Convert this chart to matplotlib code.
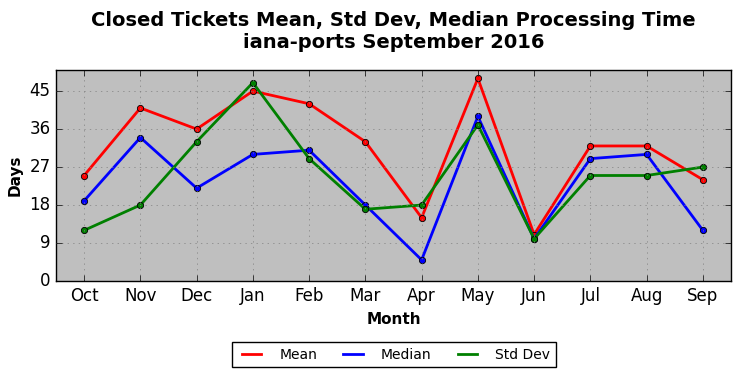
import matplotlib
matplotlib.use("Agg")
import matplotlib.pyplot as plt

months = ["Oct", "Nov", "Dec", "Jan", "Feb", "Mar", "Apr", "May", "Jun", "Jul", "Aug", "Sep"]
mean_days = [25, 41, 36, 45, 42, 33, 15, 48, 11, 32, 32, 24]
median_days = [19, 34, 22, 30, 31, 18, 5, 39, 10, 29, 30, 12]
std_days = [12, 18, 33, 47, 29, 17, 18, 37, 10, 25, 25, 27]

plt.style.use("classic")

fig = plt.figure(figsize=(7.41, 3.78), dpi=100)
fig.patch.set_facecolor("white")
ax = fig.add_axes([56 / 741, 1 - 281 / 378, (731 - 56) / 741, (281 - 70) / 378])
ax.set_facecolor("#bfbfbf")

x = list(range(len(months)))
series = [(mean_days, "red", "Mean"), (median_days, "blue", "Median"), (std_days, "green", "Std Dev")]
for vals, col, name in series:
    # line carries the legend entry, markers drawn on top without one
    ax.plot(x, vals, color=col, lw=2, label=name)
    ax.plot(x, vals, color=col, lw=0, marker="o", ms=4.5, mec="black", mew=0.6)

ax.set_xlim(-0.5, len(months) - 0.5)
ax.set_ylim(0, 50)
ax.set_xticks(x)
ax.set_xticklabels(months)
ax.set_yticks([0, 9, 18, 27, 36, 45])
ax.grid(True, color="gray", linestyle=":")
ax.tick_params(labelsize=12)

ax.set_xlabel("Month", fontweight="bold", fontsize=11)
ax.set_ylabel("Days", fontweight="bold", fontsize=11)
ax.set_title("Closed Tickets Mean, Std Dev, Median Processing Time\niana-ports September 2016",
             fontweight="bold", fontsize=14, y=1.07)

fig.legend(loc="lower center", bbox_to_anchor=(394 / 741, 0.01), ncol=3, fontsize=10,
           fancybox=False, handlelength=2.0, columnspacing=1.6,
           handletextpad=1.0, borderpad=0.4)

fig.savefig("out.png", dpi=100)
